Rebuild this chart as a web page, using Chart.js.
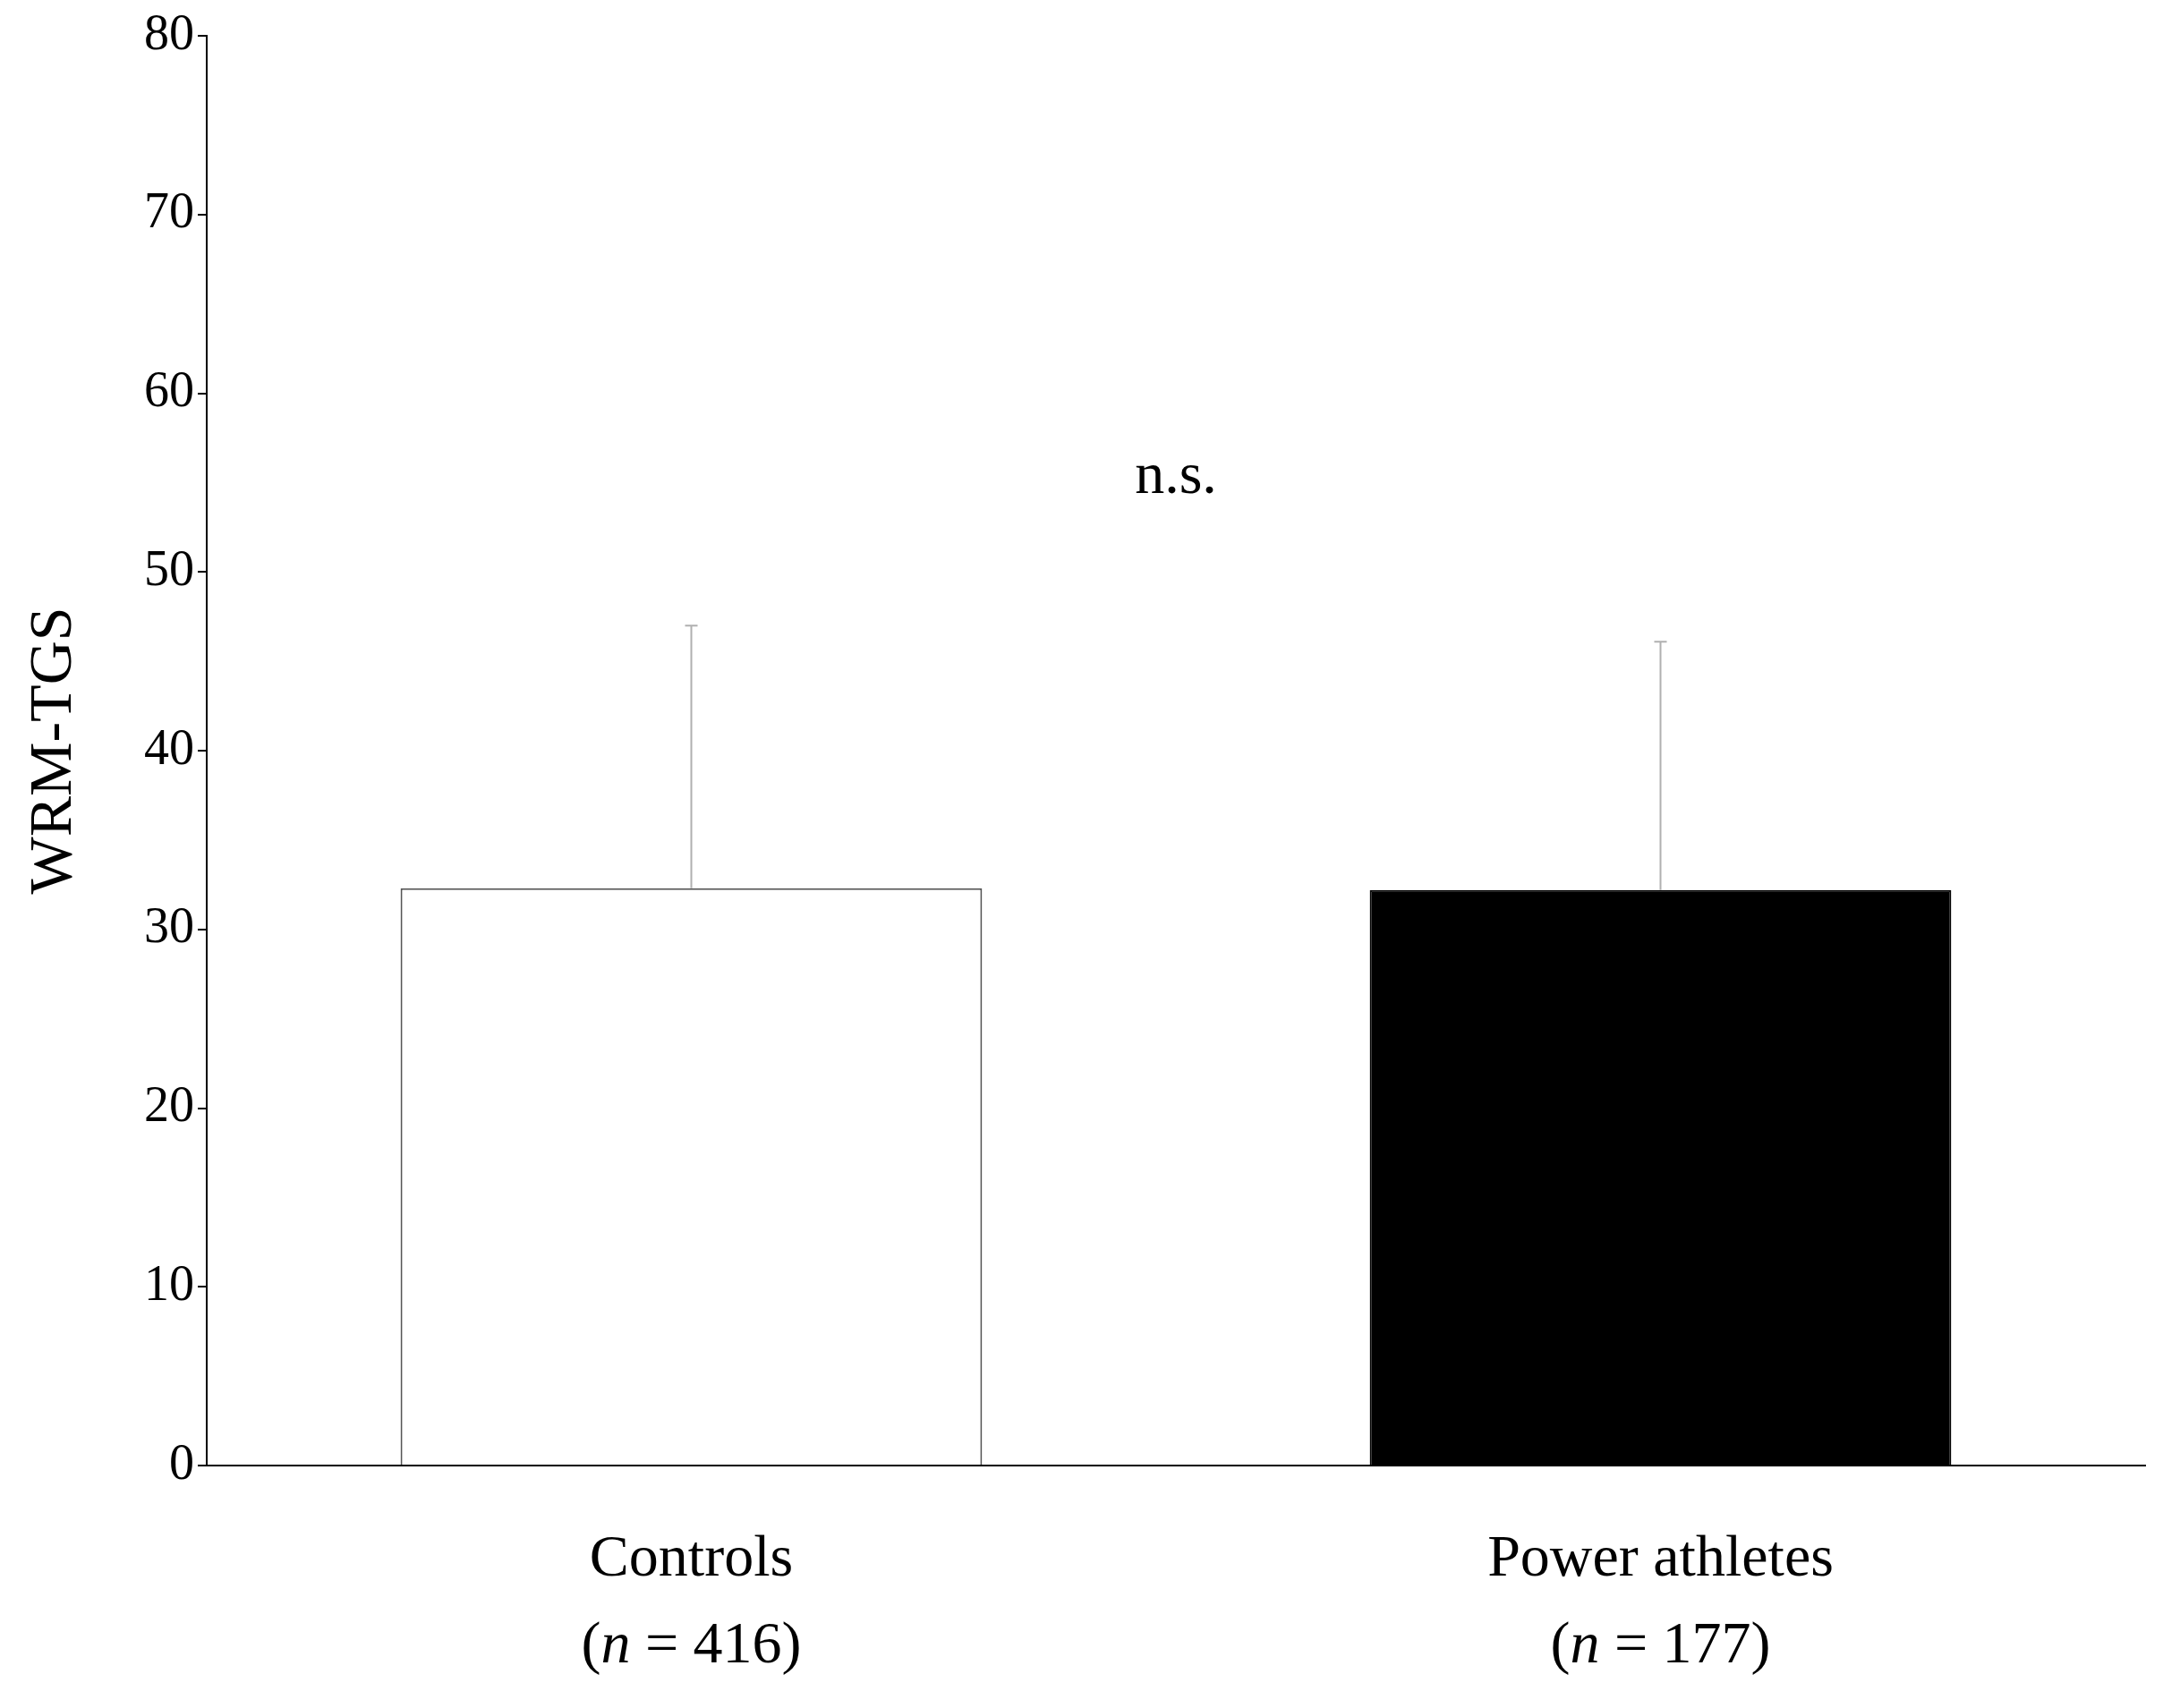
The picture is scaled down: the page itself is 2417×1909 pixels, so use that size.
<!DOCTYPE html>
<html>
<head>
<meta charset="utf-8">
<script src="https://cdn.jsdelivr.net/npm/chart.js@4"></script>
<style>
  html, body { margin: 0; padding: 0; background: #fff; }
  #wrap { width: 2417px; height: 1909px; }
</style>
</head>
<body>
<div id="wrap"><canvas id="c"></canvas></div>
<script>
// dữ liệu
const groups = ["Controls", "Power athletes"];
const groupN = ["416", "177"];
const means = [32.3, 32.2];
const sdTops = [47.0, 46.1];
const yTicks = [0, 10, 20, 30, 40, 50, 60, 70, 80];

const SERIF = "'Liberation Serif', 'Times New Roman', serif";

// vẽ thanh lỗi, nhãn nhóm và "n.s."
const extras = {
  id: "extras",
  afterDatasetsDraw(chart) {
    const ctx = chart.ctx;
    const x = chart.scales.x, y = chart.scales.y;
    ctx.save();
    ctx.strokeStyle = "#b0b0b0";
    ctx.lineWidth = 2;
    sdTops.forEach((v, i) => {
      const px = x.getPixelForValue(i);
      ctx.beginPath();
      ctx.moveTo(px, y.getPixelForValue(means[i]));
      ctx.lineTo(px, y.getPixelForValue(v));
      ctx.moveTo(px - 7, y.getPixelForValue(v));
      ctx.lineTo(px + 7, y.getPixelForValue(v));
      ctx.stroke();
    });
    ctx.fillStyle = "#000";
    ctx.textBaseline = "alphabetic";
    groups.forEach((g, i) => {
      const px = x.getPixelForValue(i);
      ctx.font = "66px " + SERIF;
      ctx.textAlign = "center";
      ctx.fillText(g, px, y.bottom + 123);
      // dòng 2: (n = 416) với n in nghiêng
      const p1 = "(", p2 = "n", p3 = " = " + groupN[i] + ")";
      ctx.font = "66px " + SERIF;
      const w1 = ctx.measureText(p1).width, w3 = ctx.measureText(p3).width;
      ctx.font = "italic 66px " + SERIF;
      const w2 = ctx.measureText(p2).width;
      let sx = px - (w1 + w2 + w3) / 2;
      const by = y.bottom + 220;
      ctx.textAlign = "left";
      ctx.font = "66px " + SERIF;
      ctx.fillText(p1, sx, by); sx += w1;
      ctx.font = "italic 66px " + SERIF;
      ctx.fillText(p2, sx, by); sx += w2;
      ctx.font = "66px " + SERIF;
      ctx.fillText(p3, sx, by);
    });
    ctx.font = "66px " + SERIF;
    ctx.textAlign = "center";
    ctx.fillText("n.s.", (x.getPixelForValue(0) + x.getPixelForValue(1)) / 2, y.getPixelForValue(54.4));
    ctx.restore();
  }
};

new Chart(document.getElementById("c"), {
  type: "bar",
  data: {
    labels: groups,
    datasets: [{
      data: means,
      backgroundColor: ["#ffffff", "#000000"],
      borderColor: ["#555555", "#000000"],
      borderWidth: 2,
      borderSkipped: "bottom",
      categoryPercentage: 1,
      barPercentage: 0.6
    }]
  },
  options: {
    responsive: true,
    maintainAspectRatio: false,
    animation: false,
    layout: { padding: { top: 40, right: 20, bottom: 263, left: 20 } },
    plugins: { legend: { display: false }, tooltip: { enabled: false } },
    scales: {
      x: {
        ticks: { display: false },
        grid: { display: false },
        border: { color: "#000", width: 2 }
      },
      y: {
        min: 0, max: 80,
        afterBuildTicks: s => { s.ticks = yTicks.map(v => ({ value: v })); },
        afterFit: s => { s.width = 211; },
        ticks: { color: "#000", font: { family: SERIF, size: 56 }, padding: 4 },
        grid: { drawOnChartArea: false, drawTicks: true, tickLength: 10, color: "#000", lineWidth: 2 },
        border: { color: "#000", width: 2 },
        title: { display: true, text: "WRM-TGS", color: "#000", font: { family: SERIF, size: 68 }, padding: 0 }
      }
    }
  },
  plugins: [extras]
});
</script>
</body>
</html>
